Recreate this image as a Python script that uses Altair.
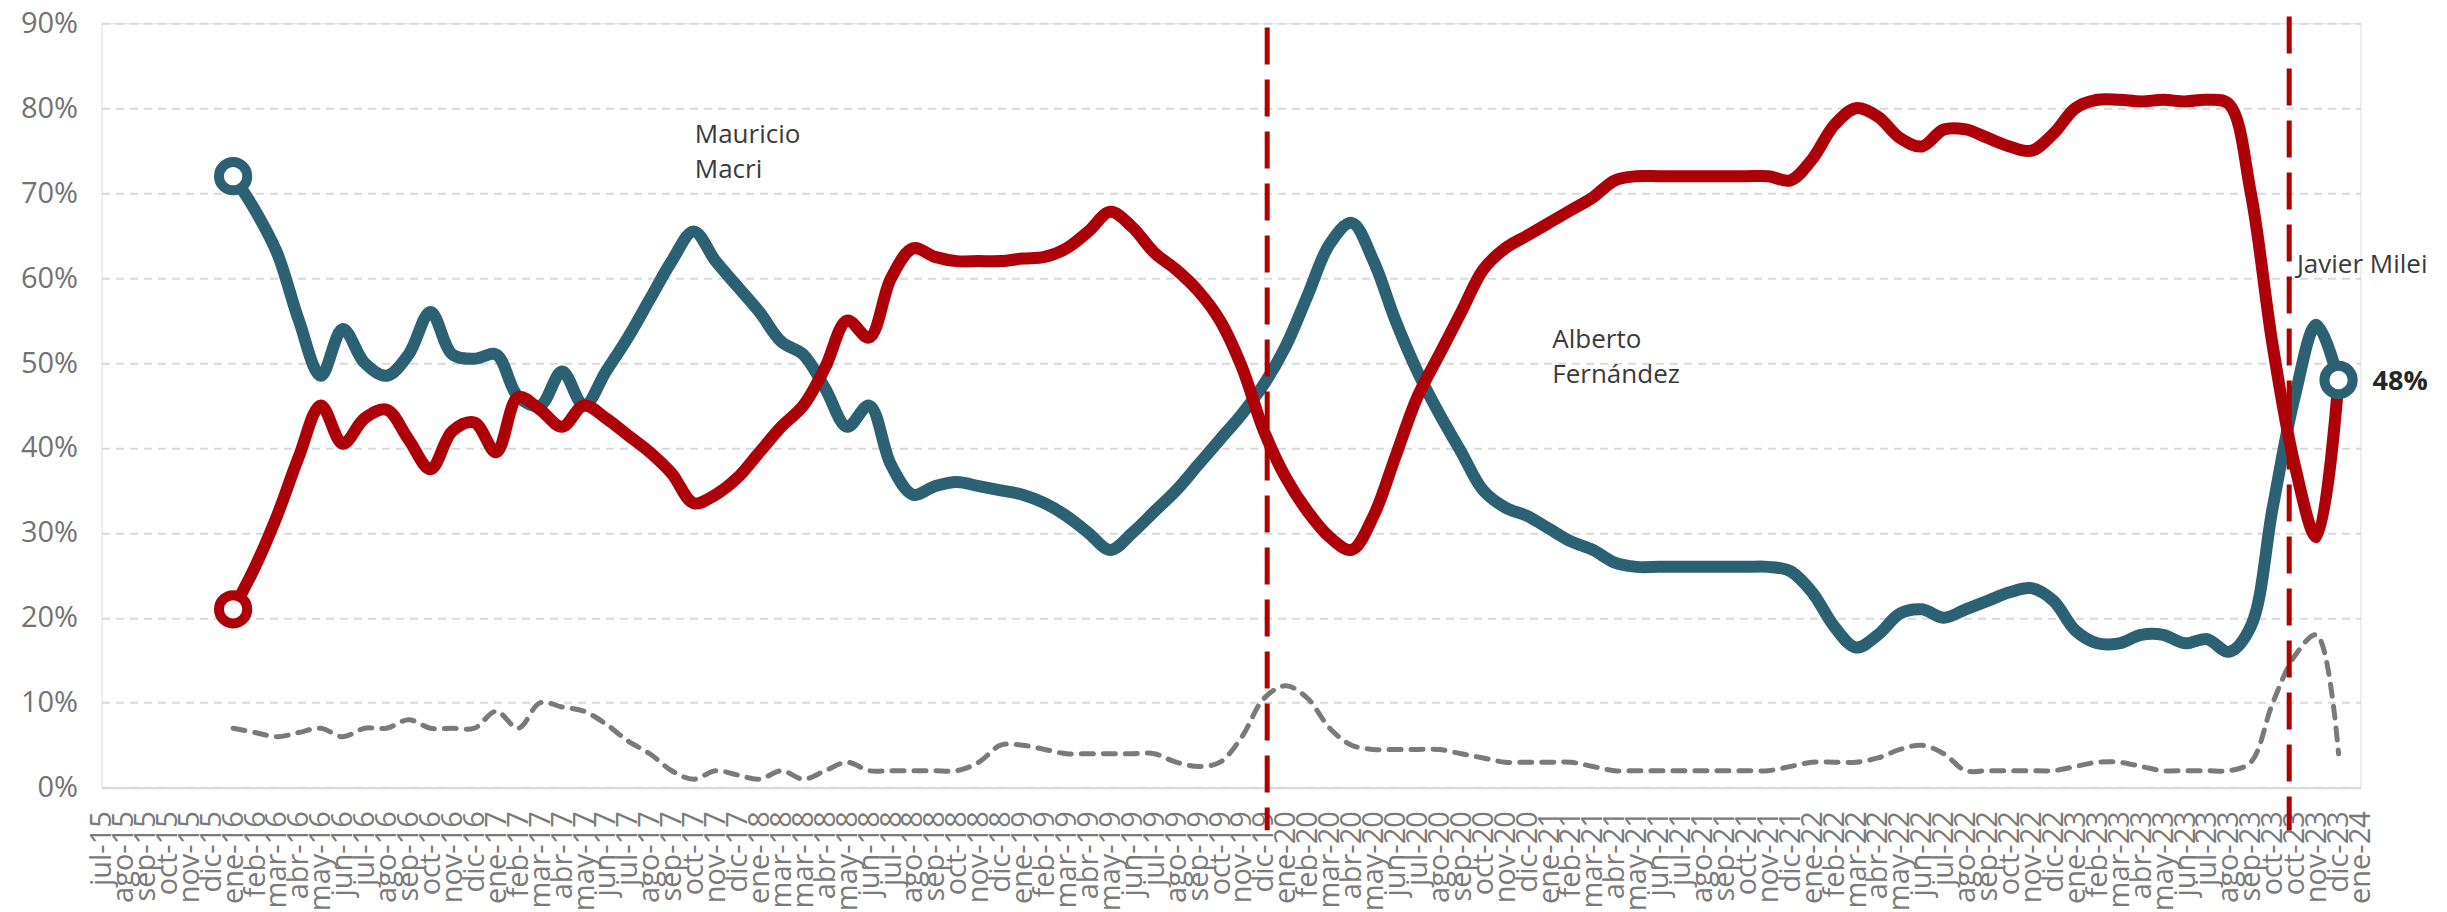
import json
import altair as alt
import pandas as pd

# ---------------- data ----------------
month_labels = [
    "jul-15", "ago-15", "sep-15", "oct-15", "nov-15", "dic-15",
    "ene-16", "feb-16", "mar-16", "abr-16", "may-16", "jun-16", "jul-16", "ago-16", "sep-16", "oct-16", "nov-16", "dic-16",
    "ene-17", "feb-17", "mar-17", "abr-17", "may-17", "jun-17", "jul-17", "ago-17", "sep-17", "oct-17", "nov-17", "dic-17",
    "ene-18", "mar-18", "mar-18", "abr-18", "may-18", "jun-18", "jul-18", "ago-18", "sep-18", "oct-18", "nov-18", "dic-18",
    "ene-19", "feb-19", "mar-19", "abr-19", "may-19", "jun-19", "jul-19", "ago-19", "sep-19", "oct-19", "nov-19", "dic-19",
    "ene-20", "feb-20", "mar-20", "abr-20", "may-20", "jun-20", "jul-20", "ago-20", "sep-20", "oct-20", "nov-20", "dic-20",
    "ene-21", "feb-21", "mar-21", "abr-21", "may-21", "jun-21", "jul-21", "ago-21", "sep-21", "oct-21", "nov-21", "dic-21",
    "ene-22", "feb-22", "mar-22", "abr-22", "may-22", "jun-22", "jul-22", "ago-22", "sep-22", "oct-22", "nov-22", "dic-22",
    "ene-23", "feb-23", "mar-23", "abr-23", "may-23", "jun-23", "jul-23", "ago-23", "sep-23", "oct-23", "oct-23", "nov-23", "dic-23",
    "ene-24",
]

first_point = 6  # series start at "ene-16"

approve = [  # blue
    72, 68, 63, 55, 48.5, 54, 50, 48.5, 51, 56,
    51, 50.5, 51, 46, 45, 49, 45, 49, 53, 57.5,
    62, 65.5, 62, 59, 56, 52.5, 51, 47, 42.5, 45,
    38, 34.5, 35.5, 36, 35.5, 35, 34.5, 33.5, 32, 30,
    28, 30, 32.5, 35, 38, 41, 44, 47.5, 52, 58,
    64, 66.5, 62, 55, 49, 44, 39.5, 35, 33, 32,
    30.5, 29, 28, 26.5, 26, 26, 26, 26, 26, 26,
    26, 25.5, 23, 19, 16.5, 18, 20.5, 21, 20, 21,
    22, 23, 23.5, 22, 18.5, 17, 17, 18, 18, 17,
    17.5, 16, 19, 33, 46, 54.5, 48,
]

disapprove = [  # red
    21, 26, 32, 39, 45, 40.5, 43.5, 44.5, 41, 37.5,
    42, 43, 39.5, 46, 44.5, 42.5, 45, 43.5, 41.5, 39.5,
    37, 33.5, 34.5, 36.5, 39.5, 42.5, 45, 49.5, 55, 53,
    60, 63.5, 62.5, 62, 62, 62, 62.3, 62.5, 63.5, 65.5,
    67.8, 66, 63, 61, 58.5, 55, 49.5, 42, 36.5, 32.5,
    29.5, 28, 32, 39, 46, 51, 56, 61, 63.5, 65,
    66.5, 68, 69.5, 71.5, 72, 72, 72, 72, 72, 72,
    72, 71.5, 74, 78, 80, 79, 76.5, 75.5, 77.5, 77.5,
    76.5, 75.5, 75, 77, 80, 81, 81, 80.8, 81, 80.8,
    81, 80.5, 70, 52, 38, 29.5, 48,
]

no_answer = [  # grey dashed
    7, 6.5, 6, 6.5, 7, 6, 7, 7, 8, 7,
    7, 7, 9, 7, 10, 9.5, 9, 7.5, 5.5, 4,
    2, 1, 2, 1.5, 1, 2, 1, 2, 3, 2,
    2, 2, 2, 2, 3, 5, 5, 4.5, 4, 4,
    4, 4, 4, 3, 2.5, 3, 6, 10.5, 12, 10.5,
    7, 5, 4.5, 4.5, 4.5, 4.5, 4, 3.5, 3, 3,
    3, 3, 2.5, 2, 2, 2, 2, 2, 2, 2,
    2, 2.5, 3, 3, 3, 3.5, 4.5, 5, 4, 2,
    2, 2, 2, 2, 2.5, 3, 3, 2.5, 2, 2,
    2, 2, 3, 10, 15.5, 18, 4,
]

y_ticks = [0, 10, 20, 30, 40, 50, 60, 70, 80, 90]

# change-of-government markers (position on the month index axis)
events = [53.15, 99.75]
event_top = [89.5, 90.8]
event_bottom = -5

annotations = [
    {"text": "Mauricio\nMacri", "x": 27.05, "y": 75.9},
    {"text": "Alberto\nFernández", "x": 66.15, "y": 51.8},
    {"text": "Javier Milei", "x": 100.1, "y": 60.6},
]

BLUE = "#2C6174"
RED = "#AE0008"
GREY = "#7a7a7a"

# ---------------- tables ----------------
def series_df(values, name):
    return pd.DataFrame({
        "idx": [first_point + i for i in range(len(values))],
        "pct": values,
        "series": name,
    })

df_blue = series_df(approve, "aprobación")
df_red = series_df(disapprove, "desaprobación")
df_grey = series_df(no_answer, "ns/nc")

last_idx = first_point + len(approve) - 1
df_pts = pd.DataFrame({
    "idx": [first_point, first_point, last_idx],
    "pct": [approve[0], disapprove[0], approve[-1]],
    "series": ["aprobación", "desaprobación", "aprobación"],
})
df_end_label = pd.DataFrame({"idx": [last_idx], "pct": [approve[-1]], "label": [f"{approve[-1]:.0f}%"]})
df_events = pd.DataFrame({"idx": events, "pct": event_top, "pct2": [event_bottom] * len(events)})
df_ann = pd.DataFrame({
    "idx": [a["x"] for a in annotations],
    "pct": [a["y"] for a in annotations],
    "text": [a["text"] for a in annotations],
})

label_expr = json.dumps(month_labels) + "[datum.value]"

x_scale = alt.Scale(domain=[0, len(month_labels) - 1], nice=False, zero=False)
y_scale = alt.Scale(domain=[0, 90], nice=False)

x_axis = alt.Axis(
    values=list(range(len(month_labels))), labelExpr=label_expr, labelAngle=-90,
    labelFontSize=29, labelColor="#7a7a7a", labelPadding=23, labelOverlap=False,
    labelBound=False, labelFlush=False, labelSeparation=0, ticks=False, grid=False,
    domain=True, domainColor="#d9d9d9", domainWidth=2, title=None,
    labelFont="Open Sans",
)
y_axis = alt.Axis(
    values=y_ticks, labelExpr="datum.value + '%'", labelFontSize=29, labelColor="#737373",
    labelPadding=24, ticks=False, domain=False, grid=True, gridDash=[8, 6],
    gridColor="#d9d9d9", gridWidth=2, title=None, labelFont="Open Sans",
)

X = alt.X("idx:Q", scale=x_scale, axis=x_axis)
Y = alt.Y("pct:Q", scale=y_scale, axis=y_axis)

grey_line = alt.Chart(df_grey).mark_line(
    interpolate="catmull-rom", strokeWidth=5, strokeDash=[12, 10], strokeCap="round", color=GREY
).encode(x=X, y=Y)

blue_line = alt.Chart(df_blue).mark_line(
    interpolate="catmull-rom", strokeWidth=12, strokeCap="round", strokeJoin="round", color=BLUE
).encode(x=X, y=Y)

red_line = alt.Chart(df_red).mark_line(
    interpolate="catmull-rom", strokeWidth=12, strokeCap="round", strokeJoin="round", color=RED
).encode(x=X, y=Y)

event_rules = alt.Chart(df_events).mark_rule(
    color="#B00000", strokeWidth=5, strokeDash=[37, 15]
).encode(x=X, y=Y, y2="pct2:Q")

points = alt.Chart(df_pts).mark_point(
    shape="circle", size=800, strokeWidth=10, fill="white", fillOpacity=1, opacity=1, filled=False
).encode(
    x=X, y=Y,
    stroke=alt.Stroke("series:N", scale=alt.Scale(domain=["aprobación", "desaprobación"], range=[BLUE, RED]), legend=None),
)

end_label = alt.Chart(df_end_label).mark_text(
    align="left", baseline="middle", dx=34, dy=2, fontSize=27, fontWeight="bold", color="#262626", font="Open Sans"
).encode(x=X, y=Y, text="label:N")

ann = alt.Chart(df_ann).mark_text(
    align="left", baseline="alphabetic", lineBreak="\n", lineHeight=35, fontSize=26,
    color="#3a3a3a", font="Open Sans"
).encode(x=X, y=Y, text="text:N")

chart = alt.layer(
    grey_line, blue_line, red_line, event_rules, points, end_label, ann
).properties(
    width=2259, height=764.4,
    autosize=alt.AutoSizeParams(type="none"),
    padding={"left": 93.5, "top": 15.3, "right": 70, "bottom": 130},
).configure_view(stroke=None).configure(font="Open Sans")

chart.save("out.html", embed_options={"renderer": "svg", "actions": False})
